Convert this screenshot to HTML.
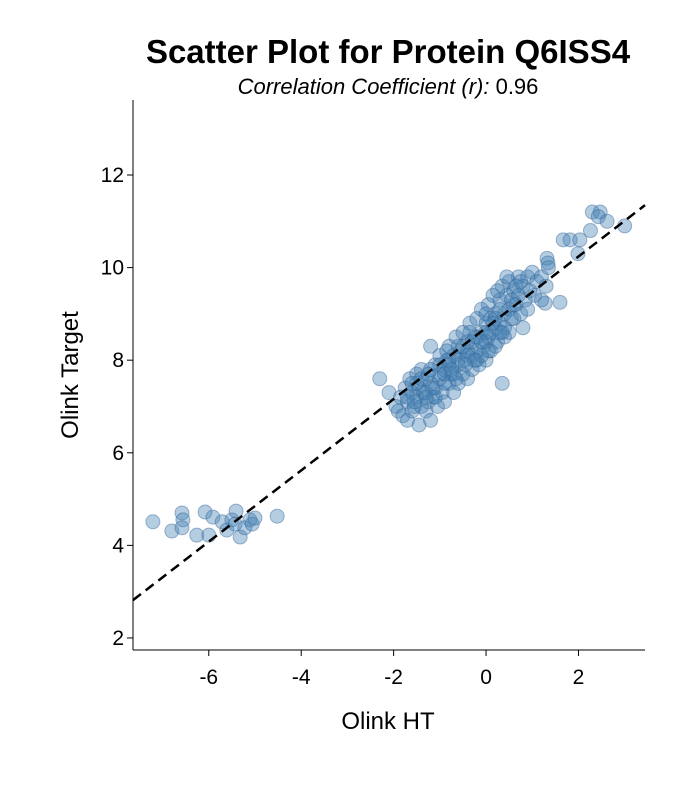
<!DOCTYPE html>
<html><head><meta charset="utf-8"><style>
body{margin:0;background:#fff;}
svg text{font-family:"Liberation Sans",sans-serif;fill:#000;}
</style></head><body>
<svg id="chart" width="678" height="786" viewBox="0 0 678 786" xmlns="http://www.w3.org/2000/svg">
<text x="388" y="63" font-size="33" font-weight="bold" text-anchor="middle">Scatter Plot for Protein Q6ISS4</text>
<text x="388" y="94" font-size="22" text-anchor="middle"><tspan font-style="italic">Correlation Coefficient (r):</tspan>  0.96</text>
<g id="points"></g>
<g id="axes"></g>
<text x="388" y="729" font-size="24" text-anchor="middle">Olink HT</text>
<text transform="translate(78,375) rotate(-90)" font-size="24" text-anchor="middle">Olink Target</text>
</svg>
<script>
const xVals=[-7.21,-6.80,-6.58,-6.56,-6.58,-6.26,-6.08,-6.00,-5.91,-5.71,-5.61,-5.50,-5.41,-5.43,-5.32,-5.22,-5.11,-5.06,-5.00,-4.52,
2.30,2.47,2.43,2.62,3.0,2.26,1.67,1.82,2.03,1.99,1.32,1.34,1.60,1.28,
-2.3,-2.1,-1.95,-1.9,-1.85,-1.8,-1.75,-1.7,-1.7,-1.65,-1.6,-1.6,-1.55,-1.5,-1.5,-1.45,-1.45,-1.4,-1.4,-1.35,-1.3,-1.3,-1.25,-1.2,-1.2,-1.2,-1.15,-1.1,-1.1,-1.05,-1.0,-1.0,-0.95,-0.9,-0.9,-0.85,-0.8,-0.8,-0.75,-0.7,-0.7,-0.65,-0.6,-0.6,-0.55,-0.5,-0.5,-0.45,-0.4,-0.4,-0.35,-0.3,-0.3,-0.25,-0.2,-0.2,-0.15,-0.1,-0.1,-0.05,0,0,0.05,0.05,0.1,0.1,0.15,0.2,0.2,0.25,0.3,0.3,0.35,0.4,0.4,0.45,0.5,0.5,0.55,0.6,0.65,0.7,0.7,0.75,0.8,0.85,0.9,0.95,1.0,1.05,1.1,1.2,1.3,1.35,0.35,
-1.0,-0.7,-0.4,0,-0.2,0.2,-0.8,-1.3,-1.5,-0.6,-0.3,0.1,0.4,0.6,-0.9,-1.1,0.0,-0.1,0.3,0.5,0.75,0.9,0.8,1.2,0.65,0.45,0.25,
-1.6,-1.4,-1.2,-1.0,-0.8,-0.6,-0.4,-0.2,0.0,0.2,-1.7,-1.3,-0.9,-0.5,-0.1,0.3,0.6,-1.55,-1.15,-0.75,-0.35,0.15,0.55,-0.65,-0.25,0.05,0.35,-1.25,-0.85,-0.45];
const yVals=[4.51,4.31,4.70,4.55,4.38,4.22,4.72,4.22,4.61,4.51,4.33,4.55,4.74,4.46,4.18,4.38,4.55,4.46,4.59,4.63,
11.2,11.2,11.1,11.0,10.9,10.8,10.6,10.6,10.6,10.3,10.2,10.1,9.25,9.23,
7.6,7.3,7.0,6.9,7.2,6.8,7.4,7.1,6.7,7.6,7.3,6.9,7.0,7.7,7.2,6.6,7.4,7.0,7.8,7.3,6.9,7.6,7.1,7.5,8.3,6.7,7.2,7.9,7.4,7.0,7.6,8.1,7.3,7.8,7.1,8.0,7.5,8.3,7.7,7.3,8.1,8.5,7.9,7.5,8.2,7.7,8.6,8.0,8.4,7.6,8.8,8.1,7.8,8.5,8.9,8.2,7.9,8.6,9.1,8.3,8.8,8.0,9.2,8.5,8.9,8.2,9.4,8.7,9.0,8.4,9.3,8.8,9.6,9.0,8.5,9.4,9.1,9.7,8.9,9.5,9.2,9.8,9.4,9.0,9.6,9.3,9.8,9.5,9.9,9.4,9.7,9.8,9.6,10.0,7.5,
7.9,7.7,8.2,8.4,8.0,8.3,7.9,7.3,7.5,8.0,8.4,8.6,8.7,8.9,7.5,7.2,9.0,8.1,9.1,8.6,9.7,9.1,8.7,9.3,9.6,9.8,9.5,
7.5,7.6,7.8,7.7,8.0,8.3,8.1,8.5,8.6,8.9,7.2,7.2,7.7,8.3,8.4,8.6,9.2,7.1,7.4,7.8,8.6,8.8,9.3,7.6,8.0,8.2,8.6,7.7,8.2,7.9];
const xTicks=[-6,-4,-2,0,2];
const yTicks=[2,4,6,8,10,12];
const fitSlope=0.77, fitIntercept=8.70;
const X0=133,X1=645,Y0=650,Y1=100;
const xMin=-7.64,xMax=3.44,yMin=1.74,yMax=13.62;
function sx(v){return X0+(v-xMin)/(xMax-xMin)*(X1-X0);}
function sy(v){return Y0-(v-yMin)/(yMax-yMin)*(Y0-Y1);}
const NS="http://www.w3.org/2000/svg";
const pg=document.getElementById('points');
for(let i=0;i<xVals.length;i++){
 const c=document.createElementNS(NS,'circle');
 c.setAttribute('cx',sx(xVals[i]));c.setAttribute('cy',sy(yVals[i]));c.setAttribute('r',7);
 c.setAttribute('fill','rgba(70,130,180,0.4)');c.setAttribute('stroke','rgba(50,100,150,0.45)');c.setAttribute('stroke-width','1');
 
 
 pg.appendChild(c);
}
const ax=document.getElementById('axes');
const fl=document.createElementNS(NS,'line');
fl.setAttribute('x1',sx(xMin));fl.setAttribute('y1',sy(fitIntercept+fitSlope*xMin));
fl.setAttribute('x2',sx(xMax));fl.setAttribute('y2',sy(fitIntercept+fitSlope*xMax));
fl.setAttribute('stroke','#000');fl.setAttribute('stroke-width','2.5');fl.setAttribute('stroke-dasharray','10 6');


ax.appendChild(fl);
function line(x1,y1,x2,y2,name){const l=document.createElementNS(NS,'line');l.setAttribute('x1',x1);l.setAttribute('y1',y1);l.setAttribute('x2',x2);l.setAttribute('y2',y2);l.setAttribute('stroke','#000');l.setAttribute('stroke-width','1');
 
 
 ax.appendChild(l);}
line(X0,Y1,X0,Y0,'y-axis-line');line(X0,Y0,X1,Y0,'x-axis-line');
xTicks.forEach(t=>{const x=sx(t);line(x,Y0,x,Y0+6,'x-tick');const tx=document.createElementNS(NS,'text');tx.setAttribute('x',x);tx.setAttribute('y',Y0+34);tx.setAttribute('font-size','21');tx.setAttribute('text-anchor','middle');tx.textContent=t;
 
 
 ax.appendChild(tx);});
yTicks.forEach(t=>{const y=sy(t);line(X0-6,y,X0,y,'y-tick');const tx=document.createElementNS(NS,'text');tx.setAttribute('x',X0-9);tx.setAttribute('y',y+7);tx.setAttribute('font-size','21');tx.setAttribute('text-anchor','end');tx.textContent=t;
 
 
 ax.appendChild(tx);});
</script>
</body></html>
